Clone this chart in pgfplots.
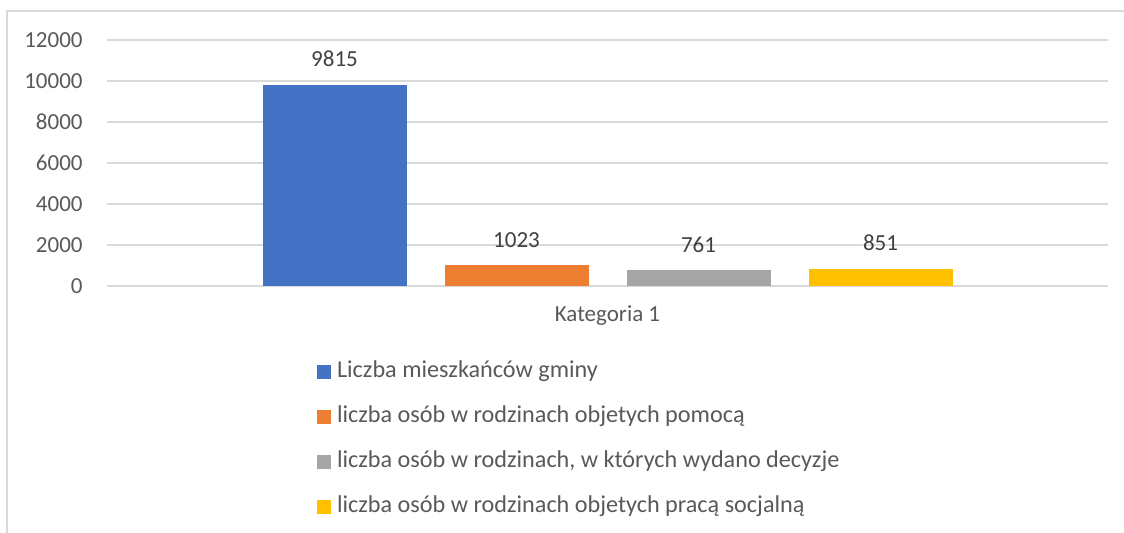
\documentclass[border=0pt]{standalone}
\usepackage{fontspec}
\setmainfont{Carlito}
\usepackage{pgfplots}
\pgfplotsset{compat=1.18}
\definecolor{cblue}{HTML}{4472C4}
\definecolor{corange}{HTML}{ED7D31}
\definecolor{cgray}{HTML}{A5A5A5}
\definecolor{cyellow}{HTML}{FFC000}
\definecolor{gridgray}{HTML}{D9D9D9}
\definecolor{txtgray}{HTML}{595959}
\definecolor{lblgray}{HTML}{404040}
\pgfkeys{/pgf/number format/1000 sep={}, /pgf/number format/assume math mode=true}
\pgfplotsset{sq/.style={legend image code/.code={\fill[##1,draw=none] (0pt,-3.5pt) rectangle (7pt,3.5pt); \path (10pt,0pt);}}}
\begin{document}
\begin{tikzpicture}
\path[use as bounding box] (0,0) rectangle (562pt,-266.5pt);
\draw[color=gridgray, line width=1pt] (3.5pt,-5.5pt) rectangle (620pt,-320pt);
\begin{axis}[
  at={(53.5pt,-143pt)}, anchor=south west,
  scale only axis, width=500.5pt, height=123pt,
  ybar=19pt, bar width=72pt,
  xmin=-0.5, xmax=0.5, ymin=0, ymax=12000,
  enlargelimits=false,
  xtick={0}, xticklabels={Kategoria 1},
  ytick={0,2000,4000,6000,8000,10000,12000},
  ymajorgrids, grid style={gridgray, line width=0.6pt},
  axis x line*=bottom, axis y line*=left,
  x axis line style={gridgray, line width=0.6pt, -},
  y axis line style={draw=none},
  major tick length=0pt,
  tick style={draw=none},
  scaled y ticks=false,
  yticklabel style={font=\fontsize{11.5}{13}\selectfont, color=txtgray, anchor=east, inner sep=0pt, xshift=-12pt},
  xticklabel style={font=\fontsize{11.5}{13}\selectfont, color=txtgray, anchor=base, inner sep=0pt, yshift=-18pt},
  nodes near coords,
  every node near coord/.append style={font=\fontsize{11.5}{13}\selectfont, color=lblgray, anchor=base, inner sep=0pt, yshift=9pt},
  legend cell align=left,
  legend style={draw=none, fill=none, inner sep=0pt, outer sep=0pt,
    at={(axis description cs:0.2098,-0.305)}, anchor=north west,
    row sep=12pt, column sep=0pt,
    nodes={inner sep=0pt, text height=8pt, text depth=2.5pt},
    font=\fontsize{12.1}{14}\selectfont, text=txtgray},
]
\addplot[fill=cblue, draw=none, sq] coordinates {(0,9815)};
\addlegendentry{Liczba mieszkańców gminy}
\addplot[fill=corange, draw=none, sq] coordinates {(0,1023)};
\addlegendentry{liczba osób w rodzinach objetych pomocą}
\addplot[fill=cgray, draw=none, sq] coordinates {(0,761)};
\addlegendentry{liczba osób w rodzinach, w których wydano decyzje}
\addplot[fill=cyellow, draw=none, sq] coordinates {(0,851)};
\addlegendentry{liczba osób w rodzinach objetych pracą socjalną}
\end{axis}
\end{tikzpicture}
\end{document}
